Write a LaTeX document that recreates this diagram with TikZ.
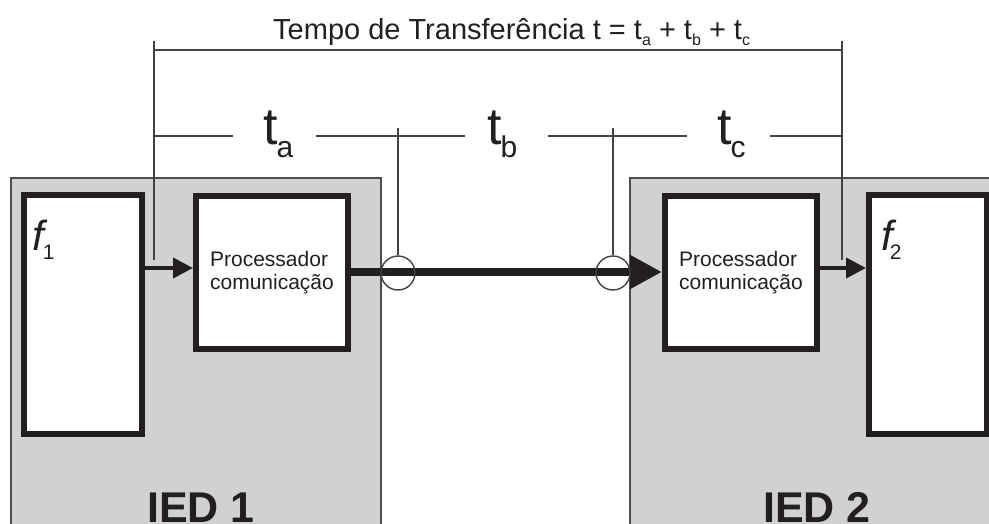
\documentclass[tikz,border=0pt]{standalone}
\usepackage{fontspec}
\setmainfont{Liberation Sans}
\usetikzlibrary{arrows.meta}
\definecolor{ink}{HTML}{231F20}
\definecolor{iedgray}{HTML}{D1D1D1}
\newcommand{\ttsb}[1]{\raisebox{-6pt}{\fontsize{16}{16}\selectfont #1}}
\newcommand{\bigtsb}[1]{{\fontsize{52}{52}\selectfont t}\kern-1pt\raisebox{-13pt}{\fontsize{30}{30}\selectfont #1}}
\begin{document}
\begin{tikzpicture}[x=1pt,y=-1pt,
  iedbox/.style={rectangle, draw=ink!80, line width=1.2pt, fill=iedgray, inner sep=0pt},
  fbox/.style={rectangle, draw=ink, line width=6pt, fill=white, inner sep=0pt},
  procbox/.style={rectangle, draw=ink, line width=6pt, fill=white, inner sep=0pt,
    align=left, text=ink, font=\fontsize{21}{23}\selectfont},
  dim/.style={draw=ink!85, line width=1.4pt},
  ring/.style={circle, draw=ink!85, line width=1.4pt, minimum size=34pt, inner sep=0pt},
  lbl/.style={anchor=base west, inner sep=0pt, text=ink},
  smallarrow/.style={draw=ink, line width=4pt, -{Triangle[length=20pt,width=20pt]}},
  bigarrow/.style={draw=ink, line width=8pt, -{Triangle[length=32pt,width=32pt]}},
]
\useasboundingbox (0,0) rectangle (989,524);

% IED boxes
\node[iedbox, minimum width=370pt, minimum height=362pt] (ied1) at (196,359) {};
\node[iedbox, minimum width=370pt, minimum height=362pt] (ied2) at (815,359) {};

% function boxes
\node[fbox, minimum width=118pt, minimum height=239pt] (f1) at (83,314.5) {};
\node[fbox, minimum width=118pt, minimum height=239pt] (f2) at (928,314.5) {};

% processor boxes
\node[procbox, minimum width=152pt, minimum height=153pt] (p1) at (272,272.5) {Processador\\comunicação};
\node[procbox, minimum width=152pt, minimum height=153pt] (p2) at (741,272.5) {Processador\\comunicação};

% labels
\node[lbl] (f1l) at (32,251) {\fontsize{42}{42}\selectfont\itshape f\kern-1pt\raisebox{-9pt}{\upshape\fontsize{21}{21}\selectfont 1}};
\node[lbl] (f2l) at (881,251) {\fontsize{42}{42}\selectfont\itshape f\kern-3pt\raisebox{-9pt}{\upshape\fontsize{21}{21}\selectfont 2}};
\node[lbl, font=\fontsize{43}{43}\selectfont\bfseries] (ied1l) at (147,522) {IED 1};
\node[lbl, font=\fontsize{43}{43}\selectfont\bfseries] (ied2l) at (763,522) {IED 2};

% arrows
\coordinate (ay) at (0,268);
\coordinate (by) at (0,272);
\draw[smallarrow] (f1.east |- ay) -- (p1.west |- ay);
\draw[smallarrow] (p2.east |- ay) -- (f2.west |- ay);
\draw[bigarrow] (p1.east |- by) -- (p2.west |- by);

% measuring rings
\node[ring] (c1) at (398,273) {};
\node[ring] (c2) at (613,273) {};

% dimension lines
\coordinate (tl) at (154,41);
\coordinate (bl) at (154,260);
\coordinate (tr) at (842,41);
\coordinate (br) at (842,260);
\coordinate (hl) at (154,50);
\coordinate (hr) at (842,50);
\coordinate (ty) at (0,128);
\draw[dim] (tl) -- (bl);
\draw[dim] (tr) -- (br);
\draw[dim] (hl) -- (hr);
\draw[dim] (c1.north) -- (c1.north |- ty);
\draw[dim] (c2.north) -- (c2.north |- ty);

\coordinate (g0) at (154,136);
\coordinate (g1) at (233,136);
\coordinate (g2) at (316,136);
\coordinate (g3) at (465,136);
\coordinate (g4) at (548,136);
\coordinate (g5) at (687,136);
\coordinate (g6) at (770,136);
\coordinate (g7) at (842,136);
\draw[dim] (g0) -- (g1);
\draw[dim] (g2) -- (g3);
\draw[dim] (g4) -- (g5);
\draw[dim] (g6) -- (g7);

\node[lbl] (ta) at (263,145) {\bigtsb{a}};
\node[lbl] (tb) at (487,145) {\bigtsb{b}};
\node[lbl] (tc) at (717,145) {\bigtsb{c}};

% title
\node[lbl, font=\fontsize{29}{29}\selectfont] (title) at (273,40)
  {Tempo de Transferência t = t\ttsb{a} + t\ttsb{b} + t\ttsb{c}};
\end{tikzpicture}
\end{document}
